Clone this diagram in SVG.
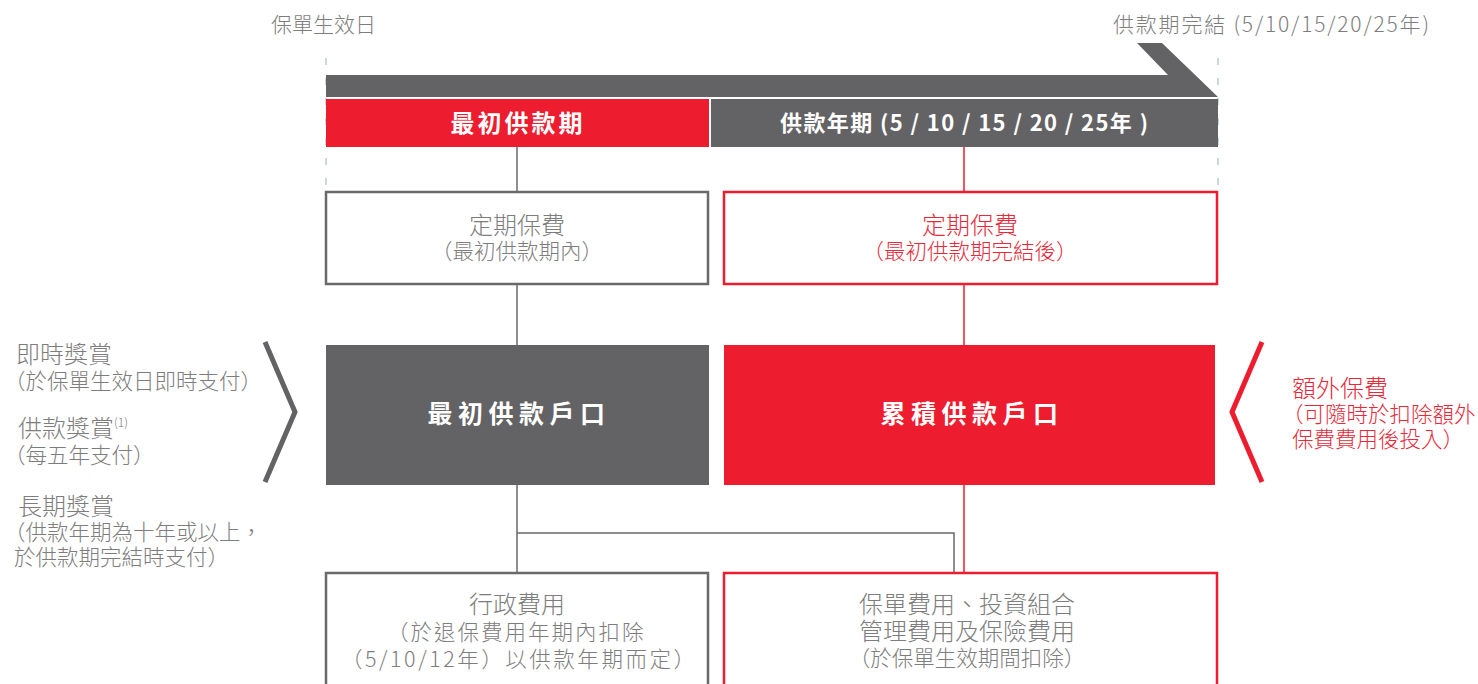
<svg xmlns="http://www.w3.org/2000/svg" width="1478" height="684" viewBox="0 0 1478 684">
<style>
text{font-family:"Noto Sans CJK TC","Noto Sans CJK SC","Noto Sans",sans-serif;}
.lt{font-weight:300;}
.g{fill:#7d7d7d;}
.r{fill:#e8293a;}
.w{fill:#ffffff;font-weight:700;}
.h{font-size:24px;}
.s{font-size:21.5px;}
.c{text-anchor:middle;}
.dash{stroke:#c9d9d9;stroke-width:2;stroke-dasharray:7 13;fill:none;}
.gl{stroke:#6a6a6c;stroke-width:1.5;fill:none;}
.rl{stroke:#ed1c2e;stroke-width:1.5;fill:none;}
.gbox{fill:#fff;stroke:#6a6a6c;stroke-width:2.5;}
.rbox{fill:#fff;stroke:#ed1c2e;stroke-width:2.5;}
</style>
<rect width="1478" height="684" fill="#fff"/>

<g id="timeline">
  <text class="lt g" x="271" y="32" font-size="21">保單生效日</text>
  <text class="lt g" x="1113" y="32" font-size="21" textLength="316" lengthAdjust="spacing">供款期完結 (5/10/15/20/25年)</text>
  <line class="dash" x1="326" y1="58" x2="326" y2="192"/>
  <line class="dash" x1="1218" y1="58" x2="1218" y2="192"/>
  <polygon points="326,75 1168,75 1137,43 1162,43 1218,97 326,97" fill="#636365"/>
</g>

<g id="period-initial">
  <rect x="326" y="99" width="383" height="48" fill="#ed1c2e"/>
  <text class="w c" x="518" y="132" font-size="24" letter-spacing="3">最初供款期</text>
</g>
<g id="period-term">
  <rect x="711" y="99" width="507" height="48" fill="#636365"/>
  <text class="w c" x="964" y="131" font-size="22" textLength="368" lengthAdjust="spacing">供款年期 (5 / 10 / 15 / 20 / 25年 )</text>
</g>

<g id="connectors">
  <line class="gl" x1="517" y1="147" x2="517" y2="192"/>
  <line class="gl" x1="517" y1="284" x2="517" y2="345"/>
  <line class="rl" x1="964" y1="147" x2="964" y2="192"/>
  <line class="rl" x1="964" y1="284" x2="964" y2="345"/>
  <line class="gl" x1="517" y1="485" x2="517" y2="573"/>
  <polyline class="gl" points="517,533 954,533 954,573"/>
  <line class="rl" x1="964" y1="485" x2="964" y2="573"/>
</g>

<g id="premium-initial">
  <rect class="gbox" x="326" y="192" width="382" height="92"/>
  <text class="lt g c h" x="517" y="234">定期保費</text>
  <text class="lt g c s" x="517" y="259">（最初供款期內）</text>
</g>
<g id="premium-after">
  <rect class="rbox" x="724" y="192" width="493" height="92"/>
  <text class="lt r c h" x="970" y="234">定期保費</text>
  <text class="lt r c s" x="970" y="259">（最初供款期完結後）</text>
</g>

<g id="account-initial">
  <rect x="326" y="345" width="383" height="140" fill="#636365"/>
  <text class="w c" x="519" y="423" font-size="25" letter-spacing="5.5">最初供款戶口</text>
</g>
<g id="account-accum">
  <rect x="724" y="345" width="491" height="140" fill="#ed1c2e"/>
  <text class="w c" x="972" y="423" font-size="25" letter-spacing="5.5">累積供款戶口</text>
</g>

<g id="bonuses">
  <polyline points="265,342 295,412 265,482" fill="none" stroke="#636365" stroke-width="5"/>
  <text class="lt g h" x="16" y="363">即時獎賞</text>
  <text class="lt g s" x="4" y="389">（於保單生效日即時支付）</text>
  <text class="lt g h" x="18" y="437">供款獎賞<tspan font-size="12" dy="-10">(1)</tspan></text>
  <text class="lt g s" x="4" y="463">（每五年支付）</text>
  <text class="lt g h" x="18" y="515">長期獎賞</text>
  <text class="lt g s" x="4" y="540">（供款年期為十年或以上，</text>
  <text class="lt g s" x="14" y="565">於供款期完結時支付）</text>
</g>

<g id="extra-premium">
  <polyline points="1262,342 1232,412 1262,482" fill="none" stroke="#ed1c2e" stroke-width="5"/>
  <text class="lt r h" x="1292" y="397">額外保費</text>
  <text class="lt r s" x="1282" y="422">（可隨時於扣除額外</text>
  <text class="lt r s" x="1292" y="447">保費費用後投入）</text>
</g>

<g id="admin-fee">
  <rect class="gbox" x="326" y="573" width="382" height="130"/>
  <text class="lt g c h" x="517" y="613">行政費用</text>
  <text class="lt g s" x="387" y="640" letter-spacing="2">（於退保費用年期內扣除</text>
  <text class="lt g s" x="341" y="667" textLength="354" lengthAdjust="spacing">（5/10/12年）以供款年期而定）</text>
</g>
<g id="policy-fee">
  <rect class="rbox" x="724" y="573" width="493" height="130"/>
  <text class="lt g c h" x="967" y="613">保單費用、投資組合</text>
  <text class="lt g c h" x="967" y="640">管理費用及保險費用</text>
  <text class="lt g c s" x="967" y="666">（於保單生效期間扣除）</text>
</g>
</svg>
